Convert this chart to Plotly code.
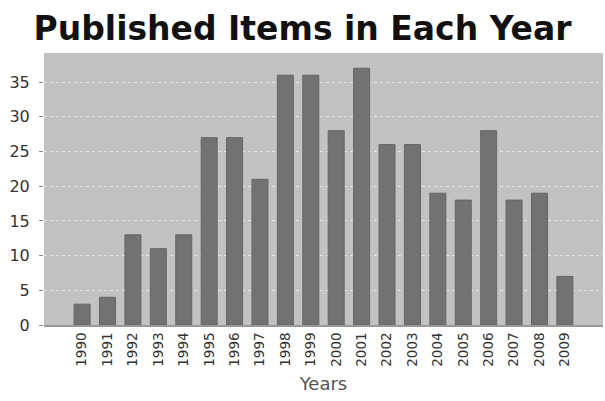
import plotly.graph_objects as go

years = [str(y) for y in range(1990, 2010)]
items = [3, 4, 13, 11, 13, 27, 27, 21, 36, 36, 28, 37, 26, 26, 19, 18, 28, 18, 19, 7]

fig = go.Figure()
fig.add_trace(go.Bar(
    x=years, y=items,
    marker=dict(color="#727272", line=dict(color="#666666", width=1)),
    width=0.63,
))
fig.update_layout(
    width=605, height=401,
    margin=dict(l=44, r=2, t=53, b=76),
    paper_bgcolor="white",
    plot_bgcolor="#c2c2c2",
    title=dict(text="<b>Published Items in Each Year</b>", x=0.5, xanchor="center",
               y=0.93, yanchor="middle",
               font=dict(family="DejaVu Sans", size=33, color="#111111")),
    showlegend=False,
    xaxis=dict(
        type="category", range=[-1.5, 20.5],
        tickangle=-90, tickfont=dict(family="DejaVu Sans, Verdana", size=13.5, color="#333333"),
        title=dict(text="Years", font=dict(family="DejaVu Sans, Verdana", size=18, color="#555555"), standoff=12),
        showline=True, linecolor="#999999", linewidth=2, ticks="", showgrid=False,
    ),
    yaxis=dict(
        range=[0, 39.2], dtick=5,
        tickfont=dict(family="DejaVu Sans, Verdana", size=16, color="#333333"),
        ticks="outside", ticklen=4, tickcolor="#888888", ticklabelstandoff=6,
        showgrid=True, gridcolor="#e6e6e6", griddash="dot", gridwidth=1,
        zeroline=False, showline=False,
    ),
)
fig.write_html("out.html")
